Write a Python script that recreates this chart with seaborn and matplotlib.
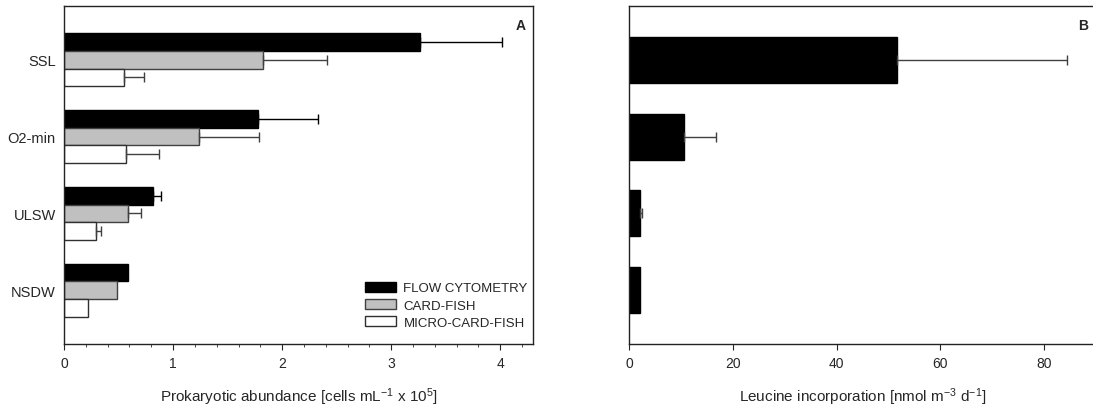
import numpy as np
import pandas as pd
import matplotlib
matplotlib.use("Agg")
import matplotlib.pyplot as plt
from matplotlib.ticker import MultipleLocator
import seaborn as sns

sns.set_style("white")
plt.rcParams["font.family"] = ["Liberation Sans", "DejaVu Sans"]
plt.rcParams["mathtext.default"] = "regular"

# data
water_masses = ["SSL", "O2-min", "ULSW", "NSDW"]
methods = ["FLOW CYTOMETRY", "CARD-FISH", "MICRO-CARD-FISH"]
flow_cytometry = [3.26, 1.78, 0.82, 0.59]
flow_cytometry_err = [0.76, 0.55, 0.07, 0.0]
card_fish = [1.82, 1.24, 0.59, 0.49]
card_fish_err = [0.59, 0.55, 0.12, 0.0]
micro_card_fish = [0.55, 0.57, 0.29, 0.22]
micro_card_fish_err = [0.18, 0.30, 0.05, 0.0]
leucine = [51.6, 10.6, 2.1, 2.1]
leucine_err = [32.8, 6.2, 0.4, 0.0]

colors = ["black", "#c0c0c0", "white"]
edges = ["black", "#404040", "#303030"]

df_a = pd.DataFrame({
    "mass": water_masses * 3,
    "method": np.repeat(methods, 4),
    "value": flow_cytometry + card_fish + micro_card_fish,
})
vals_a = [flow_cytometry, card_fish, micro_card_fish]
errs_a = [flow_cytometry_err, card_fish_err, micro_card_fish_err]

df_b = pd.DataFrame({"mass": water_masses, "value": leucine})

fig = plt.figure(figsize=(10.93, 4.1), dpi=100)
ax1 = fig.add_axes([64 / 1093, 65 / 410, 469 / 1093, 338 / 410])
ax2 = fig.add_axes([629 / 1093, 65 / 410, 467 / 1093, 338 / 410])

# panel A
sns.barplot(data=df_a, x="value", y="mass", hue="method", orient="h",
            order=water_masses, hue_order=methods, palette=colors,
            width=0.69, ax=ax1, errorbar=None)
bar_groups = list(ax1.containers)
for i, cont in enumerate(bar_groups):
    ys = []
    for bar in cont:
        bar.set_facecolor(colors[i])
        bar.set_edgecolor(edges[i])
        bar.set_linewidth(1.0)
        ys.append(bar.get_y() + bar.get_height() / 2)
    e = np.array(errs_a[i])
    mask = e > 0
    ax1.errorbar(np.array(vals_a[i])[mask], np.array(ys)[mask],
                 xerr=[np.zeros(mask.sum()), e[mask]], fmt="none",
                 ecolor="black" if i == 0 else "#404040",
                 elinewidth=1.0, capsize=3.5, capthick=1.0)

ax1.set_xlim(0, 4.3)
ax1.set_ylim(3.7, -0.7)
ax1.xaxis.set_major_locator(MultipleLocator(1))
ax1.xaxis.set_minor_locator(MultipleLocator(0.2))
ax1.set_xlabel("Prokaryotic abundance [cells mL$^{-1}$ x 10$^{5}$]",
               fontsize=11, labelpad=11)
ax1.set_ylabel("")
ax1.tick_params(axis="x", which="major", direction="out", length=4,
                width=0.8, labelsize=10, bottom=True, pad=5)
ax1.tick_params(axis="x", which="minor", direction="out", length=2,
                width=0.6, bottom=True)
ax1.tick_params(axis="y", length=0, labelsize=10.5, pad=6)
for s in ax1.spines.values():
    s.set_color("#222222")
    s.set_linewidth(1.0)
ax1.text(0.985, 0.965, "A", transform=ax1.transAxes, ha="right", va="top",
         fontsize=10, fontweight="bold")

leg = ax1.legend(loc="lower right", bbox_to_anchor=(1.0, 0.03),
                 frameon=False, fontsize=9.5, handlelength=2.4,
                 handleheight=0.75, labelspacing=0.35, handletextpad=0.55,
                 borderaxespad=0)
for h, c, ec in zip(leg.legend_handles, colors, edges):
    h.set_facecolor(c)
    h.set_edgecolor(ec)
    h.set_linewidth(1.0)

# panel B
sns.barplot(data=df_b, x="value", y="mass", orient="h", order=water_masses,
            color="black", width=0.6, ax=ax2, errorbar=None)
ys = []
for bar in list(ax2.containers)[0]:
    bar.set_facecolor("black")
    bar.set_edgecolor("black")
    ys.append(bar.get_y() + bar.get_height() / 2)
e = np.array(leucine_err)
mask = e > 0
ax2.errorbar(np.array(leucine)[mask], np.array(ys)[mask],
             xerr=[np.zeros(mask.sum()), e[mask]], fmt="none",
             ecolor="#404040", elinewidth=1.0, capsize=3.5, capthick=1.0)
ax2.set_xlim(0, 90)
ax2.set_ylim(3.7, -0.7)
ax2.xaxis.set_major_locator(MultipleLocator(20))
ax2.set_xlabel("Leucine incorporation [nmol m$^{-3}$ d$^{-1}$]",
               fontsize=11, labelpad=11)
ax2.set_ylabel("")
ax2.set_yticks([])
ax2.tick_params(axis="x", which="major", direction="out", length=4,
                width=0.8, labelsize=10, bottom=True, pad=5)
for s in ax2.spines.values():
    s.set_color("#222222")
    s.set_linewidth(1.0)
ax2.text(0.983, 0.965, "B", transform=ax2.transAxes, ha="right", va="top",
         fontsize=10, fontweight="bold")

fig.savefig("out.png", dpi=100)
